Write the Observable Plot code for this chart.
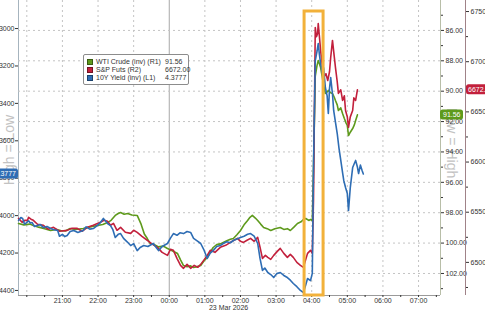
<!DOCTYPE html>
<html><head><meta charset="utf-8">
<script src="https://cdn.jsdelivr.net/npm/d3@7"></script>
<script src="https://cdn.jsdelivr.net/npm/@observablehq/plot@0.6"></script>
<style>
body{margin:0;background:#fff;}
#wrap{position:relative;width:485px;height:313px;overflow:hidden;font-family:"Liberation Sans",Arial,sans-serif;background:#fff;}
#wrap svg{position:absolute;left:0;top:0;}
#legend{position:absolute;left:83px;top:54px;width:104px;height:29px;border:1px solid #8c8c8c;border-radius:2px;background:#fff;font-size:7px;color:#333;z-index:5;}
#legend .row{position:absolute;left:3px;width:98px;height:8px;line-height:8px;white-space:nowrap;}
#legend .sw{display:inline-block;width:6px;height:6px;margin-right:3px;vertical-align:-1px;border:0.5px solid rgba(0,0,0,0.4);box-sizing:border-box;}
#legend .val{position:absolute;left:78px;top:0;}
</style></head><body><div id="wrap"><div id="legend"></div></div>
<script>
// ---------- data ----------
const seriesNames = ["WTI Crude (inv) (R1)", "S&P Futs (R2)", "10Y Yield (inv) (L1)"];
const lastValues = ["91.56", "6672.00", "4.3777"];
const yieldTicks = [4.30, 4.32, 4.34, 4.36, 4.38, 4.40, 4.42, 4.44];
const wtiTicks = [86, 88, 90, 92, 94, 96, 98, 100, 102];
const wtiMinor = [85, 87, 89, 91, 93, 95, 97, 99, 101, 103];
const spxTicks = [6500, 6550, 6600, 6650, 6700, 6750];
const spxMinor = [6475, 6525, 6575, 6625, 6675, 6725];
const hourLabels = ["21:00","22:00","23:00","00:00","01:00","02:00","03:00","04:00","05:00","06:00","07:00"];
const dateLabel = "23 Mar 2026";
const sideLabels = ["High = Low", "Low = High"];
const highlightWindow = ["03:48", "04:20"];

const yieldSeries = [["19:46",4.4026],["19:50",4.4010],["19:53",4.4015],["19:56",4.4045],["19:58",4.4042],["20:03",4.4028],["20:06",4.4040],["20:09",4.4037],["20:13",4.4058],["20:18",4.4053],["20:23",4.4048],["20:28",4.4064],["20:34",4.4058],["20:40",4.4069],["20:46",4.4075],["20:52",4.4080],["20:55",4.4110],["21:00",4.4100],["21:04",4.4112],["21:08",4.4106],["21:13",4.4085],["21:19",4.4080],["21:26",4.4090],["21:35",4.4080],["21:40",4.4060],["21:46",4.4072],["21:52",4.4069],["21:58",4.4055],["22:04",4.4037],["22:09",4.4015],["22:13",4.4030],["22:16",4.4042],["22:21",4.4053],["22:25",4.4075],["22:29",4.4117],["22:34",4.4100],["22:38",4.4096],["22:43",4.4122],["22:49",4.4140],["22:55",4.4160],["23:00",4.4150],["23:06",4.4187],["23:11",4.4170],["23:17",4.4160],["23:24",4.4165],["23:33",4.4149],["23:38",4.4170],["23:42",4.4187],["23:48",4.4165],["23:57",4.4149],["00:02",4.4120],["00:07",4.4096],["00:13",4.4105],["00:18",4.4092],["00:24",4.4096],["00:30",4.4085],["00:36",4.4090],["00:41",4.4122],["00:47",4.4135],["00:53",4.4149],["00:58",4.4180],["01:04",4.4229],["01:09",4.4200],["01:14",4.4187],["01:20",4.4165],["01:26",4.4160],["01:31",4.4149],["01:37",4.4140],["01:43",4.4145],["01:48",4.4133],["01:54",4.4125],["02:00",4.4117],["02:06",4.4110],["02:12",4.4100],["02:17",4.4096],["02:23",4.4110],["02:29",4.4149],["02:33",4.4230],["02:37",4.4293],["02:41",4.4280],["02:46",4.4304],["02:51",4.4315],["02:56",4.4331],["03:01",4.4310],["03:07",4.4304],["03:13",4.4320],["03:19",4.4331],["03:24",4.4345],["03:29",4.4363],["03:35",4.4380],["03:41",4.4400],["03:46",4.4411],["03:50",4.4370],["03:53",4.4336],["03:58",4.4347],["04:01",4.4309],["04:03",4.3743],["04:06",4.3171],["04:09",4.3120],["04:11",4.3080],["04:13",4.3140],["04:15",4.3187],["04:18",4.3240],["04:20",4.3210],["04:23",4.3315],["04:26",4.3360],["04:28",4.3454],["04:30",4.3320],["04:32",4.3262],["04:35",4.3350],["04:37",4.3438],["04:40",4.3500],["04:43",4.3561],["04:46",4.3640],["04:49",4.3705],["04:52",4.3770],["04:54",4.3812],["04:57",4.3850],["05:00",4.3882],["05:02",4.3973],["05:05",4.3850],["05:09",4.3743],["05:12",4.3720],["05:14",4.3705],["05:17",4.3740],["05:19",4.3775],["05:22",4.3730],["05:25",4.3760],["05:27",4.3777]];

const wtiSeries = [["19:46",98.71],["19:55",98.80],["20:05",98.75],["20:11",98.84],["20:20",98.95],["20:30",99.05],["20:40",99.17],["20:50",99.10],["20:57",99.17],["21:05",99.20],["21:13",99.04],["21:22",99.10],["21:35",99.04],["21:45",98.95],["21:59",98.84],["22:08",98.78],["22:16",98.65],["22:22",98.50],["22:29",98.18],["22:34",98.05],["22:38",97.99],["22:44",98.10],["22:50",98.05],["22:57",98.15],["23:06",98.18],["23:12",98.70],["23:18",99.40],["23:23",99.70],["23:28",100.03],["23:35",100.10],["23:42",100.25],["23:50",100.20],["23:57",100.36],["00:05",100.50],["00:14",100.69],["00:19",101.10],["00:24",101.48],["00:30",101.55],["00:36",101.50],["00:41",101.61],["00:47",101.55],["00:53",101.48],["00:58",101.20],["01:04",100.95],["01:09",100.60],["01:14",100.29],["01:20",100.10],["01:26",100.05],["01:31",99.96],["01:37",99.85],["01:43",99.75],["01:48",99.70],["01:54",99.45],["02:00",99.17],["02:06",98.80],["02:12",98.51],["02:16",98.30],["02:20",98.18],["02:25",98.35],["02:29",98.51],["02:34",98.75],["02:39",98.97],["02:45",99.05],["02:51",99.17],["02:58",99.05],["03:07",98.97],["03:13",99.10],["03:19",99.05],["03:24",99.17],["03:30",98.95],["03:36",98.71],["03:42",98.60],["03:46",98.45],["03:50",98.38],["03:55",98.51],["03:58",98.45],["04:01",98.51],["04:03",95.00],["04:06",89.00],["04:09",88.30],["04:11",87.98],["04:13",88.20],["04:15",88.44],["04:18",89.10],["04:20",89.60],["04:23",90.15],["04:26",90.05],["04:28",89.95],["04:32",90.10],["04:35",90.15],["04:38",90.40],["04:40",90.61],["04:43",90.90],["04:45",91.27],["04:49",91.10],["04:52",91.47],["04:55",91.80],["04:58",92.10],["05:00",92.26],["05:02",92.92],["05:05",92.70],["05:09",92.46],["05:12",92.20],["05:14",91.93],["05:17",91.56]];

const spxSeries = [["19:46",6543.9],["19:52",6540],["19:57",6542],["20:01",6541.9],["20:03",6544.9],["20:07",6543],["20:11",6541.9],["20:18",6538],["20:28",6536.9],["20:36",6533],["20:45",6534.9],["20:55",6531],["21:08",6531.9],["21:16",6534],["21:25",6533.9],["21:33",6531],["21:42",6534.9],["21:52",6537],["22:04",6539.9],["22:10",6542],["22:16",6541],["22:21",6537],["22:26",6538.9],["22:32",6532],["22:38",6534.9],["22:46",6530],["22:55",6528.9],["23:00",6532],["23:06",6529.9],["23:14",6526],["23:23",6521.9],["23:32",6518],["23:40",6515],["23:48",6510],["23:57",6507],["00:02",6513],["00:07",6512],["00:13",6504],["00:19",6497],["00:24",6494.1],["00:30",6498],["00:36",6494.1],["00:42",6497],["00:48",6495.1],["00:53",6498],["00:58",6502],["01:04",6507],["01:09",6512],["01:17",6510],["01:26",6515],["01:35",6517],["01:43",6519.9],["01:49",6522],["01:55",6523.9],["02:00",6521],["02:05",6519.9],["02:11",6522],["02:17",6523.9],["02:23",6521],["02:29",6524.9],["02:33",6515],["02:37",6504],["02:42",6507],["02:46",6505],["02:51",6503],["02:56",6507],["03:02",6511],["03:07",6514],["03:13",6509],["03:19",6505],["03:24",6508],["03:29",6505],["03:35",6500],["03:41",6497.1],["03:46",6495.1],["03:50",6503],["03:53",6509],["03:58",6512],["04:01",6509],["04:03",6561.8],["04:06",6734.1],["04:08",6725],["04:10",6728.1],["04:11",6738.1],["04:13",6725],["04:15",6711.2],["04:18",6695],["04:20",6684.3],["04:24",6688],["04:27",6681.3],["04:30",6690],["04:32",6704.2],["04:35",6721.2],["04:38",6705],["04:40",6694.3],["04:43",6680],["04:45",6668.4],["04:49",6672],["04:52",6661.4],["04:55",6666],["04:57",6651.4],["05:00",6645],["05:02",6634.5],["05:05",6645],["05:09",6651.4],["05:11",6664],["05:14",6661.4],["05:17",6672]];

// ---------- layout / style ----------
const W = 485, H = 313, mL = 18, mR = 45, mB = 18;
const FONT = '"Liberation Sans", Arial, sans-serif';
const GREEN = "#5e9a1c", RED = "#c2203c", BLUE = "#2e6db4", ORANGE = "#f2b13a";
const yieldDomain = [4.4427, 4.2850];   // inverted
const wtiDomain = [103.45, 84.03];        // inverted
const spxDomain = [6467, 6761];

function toDate(s) { const [h, m] = s.split(":").map(Number); return new Date(Date.UTC(2026, 2, h >= 12 ? 22 : 23, h, m)); }
const xDomain = [toDate("19:46"), toDate("07:37")];
const msPerPx = (xDomain[1] - xDomain[0]) / (W - mR - mL);
const fmtHM = d3.utcFormat("%H:%M");

const style = {background: "transparent", fontFamily: FONT, fontSize: "7px", color: "#333", overflow: "visible"};
function base(extra) {
  return Object.assign({width: W, height: H, marginLeft: mL, marginRight: mR, marginTop: 0, marginBottom: mB, style}, extra);
}
const X = d => toDate(d[0]), Y = d => d[1];

// base plot: grid, x axis, left axis
const halfHours = d3.utcMinute.every(30).range(toDate("20:00"), xDomain[1]);
const hours = d3.utcHour.range(toDate("20:00"), xDomain[1]);
const p1 = Plot.plot(base({
  x: {type: "utc", domain: xDomain},
  y: {domain: yieldDomain},
  marks: [
    Plot.ruleX(hours.filter(d => fmtHM(d) !== "00:00"), {stroke: "#c4c4c4", strokeDasharray: "2,3"}),
    Plot.ruleX(hours.filter(d => fmtHM(d) === "00:00"), {stroke: "#a8a8a8"}),
    Plot.ruleX([xDomain[0]], {stroke: "#a6b4be"}),
    Plot.ruleY([yieldDomain[0]], {stroke: "#9a9a9a"}),
    Plot.axisX({ticks: halfHours, tickSize: 2, tickPadding: 1, label: null, fontSize: 7,
      tickFormat: d => hourLabels.includes(fmtHM(d)) ? fmtHM(d) : ""}),
    Plot.axisY({anchor: "left", ticks: yieldTicks, tickFormat: d => d.toFixed(4), tickSize: 3, tickPadding: 1, label: null, fontSize: 7}),
    Plot.text([dateLabel], {x: () => toDate("01:40"), frameAnchor: "bottom", dy: 14, fontSize: 7, fill: "#333"})
  ]
}));

// WTI plot (right axis R1) with horizontal grid
const p2 = Plot.plot(base({
  x: {type: "utc", domain: xDomain, axis: null},
  y: {domain: wtiDomain},
  marks: [
    Plot.ruleY(wtiTicks, {stroke: "#c4c4c4", strokeDasharray: "2,3"}),
    Plot.line(wtiSeries, {x: X, y: Y, stroke: GREEN, strokeWidth: 1.6}),
    Plot.ruleX([xDomain[1]], {stroke: "#b8bea8"}),
    Plot.axisY({anchor: "right", ticks: wtiMinor, tickFormat: () => "", tickSize: 2, label: null}),
    Plot.axisY({anchor: "right", ticks: wtiTicks, tickFormat: d => d.toFixed(2), tickSize: 3, tickPadding: 2, label: null, fontSize: 7})
  ]
}));

// S&P plot (right axis R2)
const mR3 = 20;
const xDomain3 = [xDomain[0], new Date(+xDomain[0] + (W - mR3 - mL) * msPerPx)];
const p3 = Plot.plot(base({
  marginRight: mR3,
  x: {type: "utc", domain: xDomain3, axis: null},
  y: {domain: spxDomain},
  marks: [
    Plot.line(spxSeries, {x: X, y: Y, stroke: RED, strokeWidth: 1.6}),
    Plot.ruleX([xDomain3[1]], {stroke: "#a08288"}),
    Plot.axisY({anchor: "right", ticks: spxMinor, tickFormat: () => "", tickSize: 2, label: null}),
    Plot.axisY({anchor: "right", ticks: spxTicks, tickFormat: d3.format("d"), tickSize: 3, tickPadding: 2, label: null, fontSize: 7})
  ]
}));

// Yield line on top + highlight box
const p4 = Plot.plot(base({
  x: {type: "utc", domain: xDomain, axis: null},
  y: {domain: yieldDomain, axis: null},
  marks: [
    Plot.line(yieldSeries, {x: X, y: Y, stroke: BLUE, strokeWidth: 1.6}),
    Plot.rect([highlightWindow], {x1: d => toDate(d[0]), x2: d => toDate(d[1]), insetTop: 11, stroke: ORANGE, strokeWidth: 3, fill: "none"})
  ]
}));

const wrap = document.getElementById("wrap");
[p1, p2, p3, p4].forEach(p => wrap.appendChild(p));

// rotated side labels (behind tick labels)
function sideText(svg, x, y, angle, text) {
  d3.select(svg).insert("text", ":first-child")
    .attr("transform", `translate(${x},${y}) rotate(${angle})`)
    .attr("text-anchor", "middle").attr("dy", "0.35em")
    .attr("font-size", 14).attr("font-family", FONT).attr("fill", "#c2c2c2")
    .text(text);
}
sideText(p1, 9, 150, -90, sideLabels[0]);
sideText(p2, 452, 143, 90, sideLabels[1]);

function scaleOf(plot, name) {
  const s = plot.scale(name);
  if (s && typeof s.apply === "function") return v => s.apply(v);
  return d3.scaleLinear(s.domain, s.range);
}
function tag(svg, x0, x1, yc, fill, text, anchor, tx) {
  const g = d3.select(svg).append("g");
  g.append("rect").attr("x", x0).attr("y", yc - 5).attr("width", x1 - x0).attr("height", 10).attr("rx", 2.5).attr("fill", fill);
  g.append("text").attr("x", tx).attr("y", yc).attr("dy", "0.35em").attr("text-anchor", anchor)
    .attr("fill", "#fff").attr("font-size", 7).attr("font-family", FONT).text(text);
}
const yY = scaleOf(p4, "y"), yW = scaleOf(p2, "y"), yS = scaleOf(p3, "y");
tag(p4, -20, 18, yY(+lastValues[2]), BLUE, lastValues[2], "end", 16);
tag(p2, 440, 463, yW(+lastValues[0]), GREEN, lastValues[0], "start", 443);
tag(p3, 466, 492, yS(+lastValues[1]), RED, lastValues[1], "start", 468);

// legend
const legend = document.getElementById("legend");
[GREEN, RED, BLUE].forEach((c, i) => {
  const row = document.createElement("div");
  row.className = "row";
  row.style.top = (3 + i * 8) + "px";
  const sw = document.createElement("span"); sw.className = "sw"; sw.style.background = c;
  const lab = document.createElement("span"); lab.textContent = seriesNames[i];
  const val = document.createElement("span"); val.className = "val"; val.textContent = lastValues[i];
  row.append(sw, lab, val);
  legend.appendChild(row);
});
</script>
</body></html>
